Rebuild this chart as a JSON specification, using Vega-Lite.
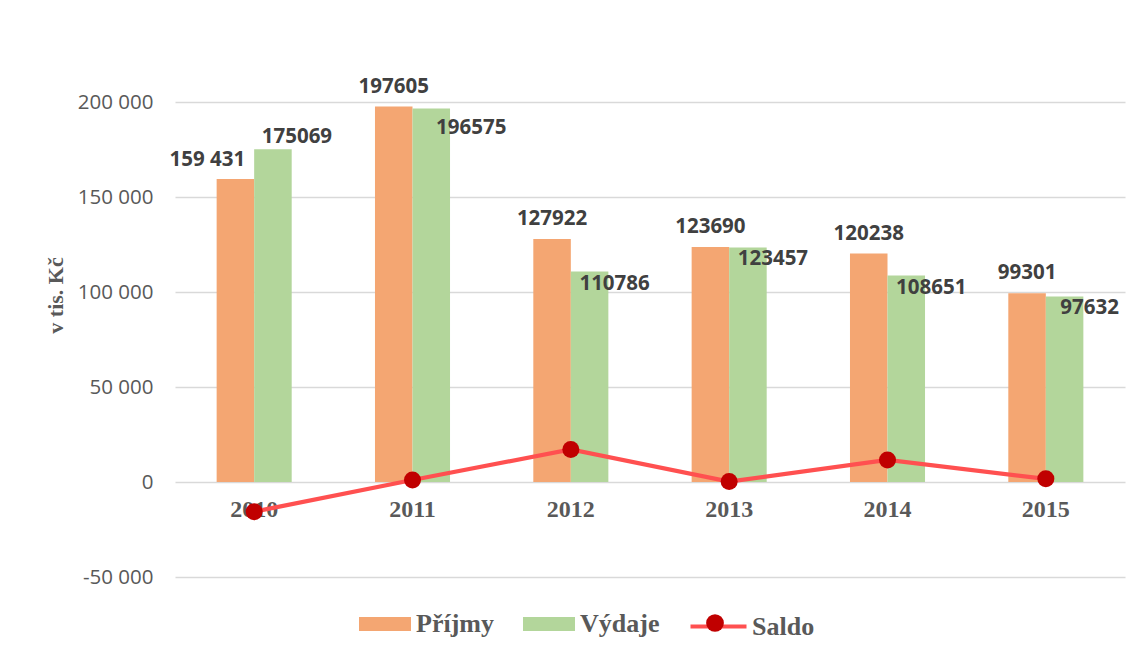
{
  "$schema": "https://vega.github.io/schema/vega-lite/v6.json",
  "autosize": "none",
  "width": 950,
  "height": 475,
  "padding": {"left": 175, "top": 102, "right": 16, "bottom": 78},
  "background": "white",
  "data": {
    "values": [
      {"year": "2010", "series": "Příjmy", "value": 159431, "label": "159 431"},
      {"year": "2010", "series": "Výdaje", "value": 175069, "label": "175069"},
      {"year": "2010", "series": "Saldo", "value": -15638, "label": "-15638"},
      {"year": "2011", "series": "Příjmy", "value": 197605, "label": "197605"},
      {"year": "2011", "series": "Výdaje", "value": 196575, "label": "196575"},
      {"year": "2011", "series": "Saldo", "value": 1030, "label": "1030"},
      {"year": "2012", "series": "Příjmy", "value": 127922, "label": "127922"},
      {"year": "2012", "series": "Výdaje", "value": 110786, "label": "110786"},
      {"year": "2012", "series": "Saldo", "value": 17136, "label": "17136"},
      {"year": "2013", "series": "Příjmy", "value": 123690, "label": "123690"},
      {"year": "2013", "series": "Výdaje", "value": 123457, "label": "123457"},
      {"year": "2013", "series": "Saldo", "value": 233, "label": "233"},
      {"year": "2014", "series": "Příjmy", "value": 120238, "label": "120238"},
      {"year": "2014", "series": "Výdaje", "value": 108651, "label": "108651"},
      {"year": "2014", "series": "Saldo", "value": 11587, "label": "11587"},
      {"year": "2015", "series": "Příjmy", "value": 99301, "label": "99301"},
      {"year": "2015", "series": "Výdaje", "value": 97632, "label": "97632"},
      {"year": "2015", "series": "Saldo", "value": 1669, "label": "1669"}
    ]
  },
  "encoding": {
    "x": {
      "field": "year",
      "type": "nominal",
      "scale": {"paddingInner": 0.526, "paddingOuter": 0.263},
      "axis": {
        "orient": "bottom",
        "offset": -95,
        "title": null,
        "domain": false,
        "ticks": false,
        "grid": false,
        "labelAngle": 0,
        "labelPadding": 27,
        "labelBaseline": "middle",
        "labelFont": "Liberation Serif",
        "labelFontWeight": "bold",
        "labelFontSize": 24,
        "labelColor": "#595959"
      }
    },
    "y": {
      "field": "value",
      "type": "quantitative",
      "scale": {"domain": [-50000, 200000], "nice": false, "zero": false},
      "axis": {
        "values": [-50000, 0, 50000, 100000, 150000, 200000],
        "labelExpr": "replace(replace(format(datum.value, ','), ',', ' '), '\u2212', '-')",
        "domain": false,
        "ticks": false,
        "grid": true,
        "gridColor": "#D9D9D9",
        "gridWidth": 1.4,
        "labelPadding": 22,
        "labelFont": "Open Sans",
        "labelFontSize": 20.5,
        "labelColor": "#595959",
        "title": "v tis. Kč",
        "titleFont": "Liberation Serif",
        "titleFontWeight": "bold",
        "titleFontSize": 22,
        "titleColor": "#595959",
        "titleAngle": -90,
        "titleX": -120,
        "titleY": 193,
        "titleAlign": "center",
        "titleBaseline": "middle"
      }
    }
  },
  "layer": [
    {
      "transform": [{"filter": "datum.series !== 'Saldo'"}],
      "mark": {"type": "bar"},
      "encoding": {
        "xOffset": {"field": "series", "type": "nominal", "sort": ["Příjmy", "Výdaje"]},
        "fill": {
          "field": "series",
          "type": "nominal",
          "scale": {"domain": ["Příjmy", "Výdaje"], "range": ["#F4A672", "#B3D69B"]},
          "legend": {
            "orient": "none",
            "legendX": 184,
            "legendY": 496,
            "direction": "horizontal",
            "title": null,
            "symbolType": "M-1,-0.27H1V0.27H-1Z",
            "symbolSize": 2704,
            "symbolStrokeWidth": 0,
            "symbolOpacity": 1,
            "labelFont": "Liberation Serif",
            "labelFontWeight": "bold",
            "labelFontSize": 26,
            "labelColor": "#595959",
            "labelOffset": 5,
            "columnPadding": 29
          }
        }
      }
    },
    {
      "transform": [{"filter": "datum.series === 'Příjmy' && datum.year !== '2010'"}],
      "mark": {"type": "text", "font": "Open Sans", "fontWeight": "bold", "fontSize": 20.5, "color": "#404040", "baseline": "middle", "dy": -20},
      "encoding": {
        "xOffset": {"field": "series", "type": "nominal", "sort": ["Příjmy", "Výdaje"], "scale": {"domain": ["Příjmy", "Výdaje"]}},
        "text": {"field": "label"}
      }
    },
    {
      "transform": [{"filter": "datum.series === 'Příjmy' && datum.year === '2010'"}],
      "mark": {"type": "text", "font": "Open Sans", "fontWeight": "bold", "fontSize": 20.5, "color": "#404040", "baseline": "middle", "dx": -28, "dy": -19},
      "encoding": {
        "xOffset": {"field": "series", "type": "nominal", "sort": ["Příjmy", "Výdaje"], "scale": {"domain": ["Příjmy", "Výdaje"]}},
        "text": {"field": "label"}
      }
    },
    {
      "transform": [{"filter": "datum.series === 'Výdaje' && datum.year !== '2010' && datum.year !== '2011'"}],
      "mark": {"type": "text", "font": "Open Sans", "fontWeight": "bold", "fontSize": 20.5, "color": "#404040", "baseline": "middle", "dx": 25, "dy": 12},
      "encoding": {
        "xOffset": {"field": "series", "type": "nominal", "sort": ["Příjmy", "Výdaje"], "scale": {"domain": ["Příjmy", "Výdaje"]}},
        "text": {"field": "label"}
      }
    },
    {
      "transform": [{"filter": "datum.series === 'Výdaje' && datum.year === '2010'"}],
      "mark": {"type": "text", "font": "Open Sans", "fontWeight": "bold", "fontSize": 20.5, "color": "#404040", "baseline": "middle", "dx": 24, "dy": -12},
      "encoding": {
        "xOffset": {"field": "series", "type": "nominal", "sort": ["Příjmy", "Výdaje"], "scale": {"domain": ["Příjmy", "Výdaje"]}},
        "text": {"field": "label"}
      }
    },
    {
      "transform": [{"filter": "datum.series === 'Výdaje' && datum.year === '2011'"}],
      "mark": {"type": "text", "font": "Open Sans", "fontWeight": "bold", "fontSize": 20.5, "color": "#404040", "baseline": "middle", "dx": 40, "dy": 19},
      "encoding": {
        "xOffset": {"field": "series", "type": "nominal", "sort": ["Příjmy", "Výdaje"], "scale": {"domain": ["Příjmy", "Výdaje"]}},
        "text": {"field": "label"}
      }
    },
    {
      "transform": [{"filter": "datum.series === 'Saldo'"}],
      "mark": {"type": "line", "strokeWidth": 4.2},
      "encoding": {
        "stroke": {
          "field": "series",
          "type": "nominal",
          "scale": {"domain": ["Saldo"], "range": ["#FF5050"]},
          "legend": {
            "orient": "none",
            "legendX": 513,
            "legendY": 494,
            "direction": "horizontal",
            "title": null,
            "symbolType": "M-1,0H1",
            "symbolSize": 3136,
            "symbolStrokeWidth": 4.2,
            "symbolOpacity": 1,
            "labelFont": "Liberation Serif",
            "labelFontWeight": "bold",
            "labelFontSize": 26,
            "labelColor": "#595959",
            "labelOffset": 3
          }
        }
      }
    },
    {
      "transform": [{"filter": "datum.series === 'Saldo'"}],
      "mark": {"type": "point", "shape": "circle", "filled": true, "size": 290, "opacity": 1},
      "encoding": {
        "color": {
          "datum": "Saldo ",
          "type": "nominal",
          "scale": {"domain": ["Saldo "], "range": ["#C00000"]},
          "legend": {
            "orient": "none",
            "legendX": 531,
            "legendY": 512,
            "direction": "horizontal",
            "title": null,
            "symbolType": "circle",
            "symbolSize": 314,
            "symbolStrokeWidth": 0,
            "symbolOpacity": 1,
            "labelOpacity": 0,
            "labelFontSize": 10
          }
        }
      }
    }
  ],
  "config": {
    "view": {"stroke": null},
    "legend": {"padding": 0},
    "scale": {"offsetBandPaddingInner": 0, "offsetBandPaddingOuter": 0}
  }
}
